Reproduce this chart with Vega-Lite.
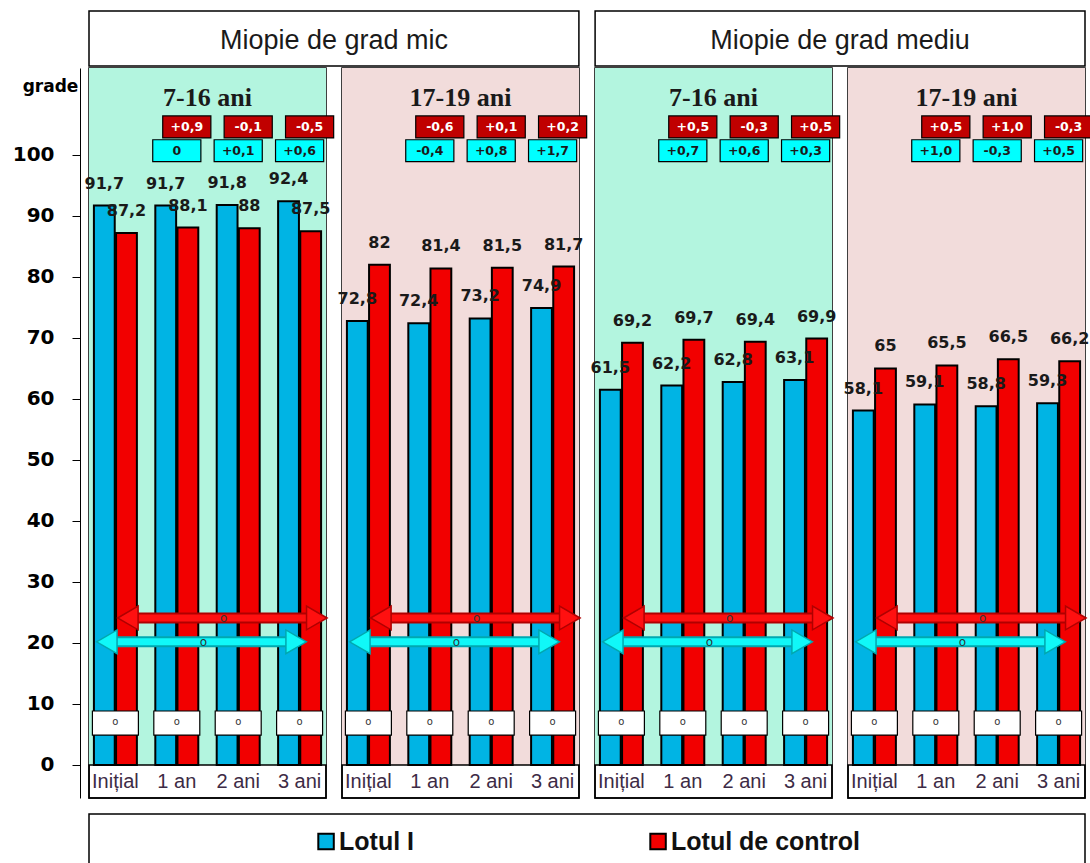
{
  "$schema": "https://vega.github.io/schema/vega-lite/v6.json",
  "padding": {"left": 11, "top": 10, "right": 4, "bottom": 0},
  "background": "white",
  "config": {
    "font": "Liberation Sans",
    "view": {"stroke": "black", "strokeWidth": 1.5}
  },
  "datasets": {
    "headers": [
      {"grade": "Miopie de grad mic"},
      {"grade": "Miopie de grad mediu"}
    ],
    "legend": [
      {"lot": "Lotul I"},
      {"lot": "Lotul de control"}
    ],
    "main": [
      {"kind": "bar", "panel": "A", "age": "7-16 ani", "time": "Inițial", "lot": "Lotul I", "value": 91.7},
      {"kind": "bar", "panel": "A", "age": "7-16 ani", "time": "Inițial", "lot": "Lotul de control", "value": 87.2},
      {"kind": "bar", "panel": "A", "age": "7-16 ani", "time": "1 an", "lot": "Lotul I", "value": 91.7},
      {"kind": "bar", "panel": "A", "age": "7-16 ani", "time": "1 an", "lot": "Lotul de control", "value": 88.1},
      {"kind": "bar", "panel": "A", "age": "7-16 ani", "time": "2 ani", "lot": "Lotul I", "value": 91.8},
      {"kind": "bar", "panel": "A", "age": "7-16 ani", "time": "2 ani", "lot": "Lotul de control", "value": 88},
      {"kind": "bar", "panel": "A", "age": "7-16 ani", "time": "3 ani", "lot": "Lotul I", "value": 92.4},
      {"kind": "bar", "panel": "A", "age": "7-16 ani", "time": "3 ani", "lot": "Lotul de control", "value": 87.5},
      {"kind": "bar", "panel": "B", "age": "17-19 ani", "time": "Inițial", "lot": "Lotul I", "value": 72.8},
      {"kind": "bar", "panel": "B", "age": "17-19 ani", "time": "Inițial", "lot": "Lotul de control", "value": 82},
      {"kind": "bar", "panel": "B", "age": "17-19 ani", "time": "1 an", "lot": "Lotul I", "value": 72.4},
      {"kind": "bar", "panel": "B", "age": "17-19 ani", "time": "1 an", "lot": "Lotul de control", "value": 81.4},
      {"kind": "bar", "panel": "B", "age": "17-19 ani", "time": "2 ani", "lot": "Lotul I", "value": 73.2},
      {"kind": "bar", "panel": "B", "age": "17-19 ani", "time": "2 ani", "lot": "Lotul de control", "value": 81.5},
      {"kind": "bar", "panel": "B", "age": "17-19 ani", "time": "3 ani", "lot": "Lotul I", "value": 74.9},
      {"kind": "bar", "panel": "B", "age": "17-19 ani", "time": "3 ani", "lot": "Lotul de control", "value": 81.7},
      {"kind": "bar", "panel": "C", "age": "7-16 ani", "time": "Inițial", "lot": "Lotul I", "value": 61.5},
      {"kind": "bar", "panel": "C", "age": "7-16 ani", "time": "Inițial", "lot": "Lotul de control", "value": 69.2},
      {"kind": "bar", "panel": "C", "age": "7-16 ani", "time": "1 an", "lot": "Lotul I", "value": 62.2},
      {"kind": "bar", "panel": "C", "age": "7-16 ani", "time": "1 an", "lot": "Lotul de control", "value": 69.7},
      {"kind": "bar", "panel": "C", "age": "7-16 ani", "time": "2 ani", "lot": "Lotul I", "value": 62.8},
      {"kind": "bar", "panel": "C", "age": "7-16 ani", "time": "2 ani", "lot": "Lotul de control", "value": 69.4},
      {"kind": "bar", "panel": "C", "age": "7-16 ani", "time": "3 ani", "lot": "Lotul I", "value": 63.1},
      {"kind": "bar", "panel": "C", "age": "7-16 ani", "time": "3 ani", "lot": "Lotul de control", "value": 69.9},
      {"kind": "bar", "panel": "D", "age": "17-19 ani", "time": "Inițial", "lot": "Lotul I", "value": 58.1},
      {"kind": "bar", "panel": "D", "age": "17-19 ani", "time": "Inițial", "lot": "Lotul de control", "value": 65},
      {"kind": "bar", "panel": "D", "age": "17-19 ani", "time": "1 an", "lot": "Lotul I", "value": 59.1},
      {"kind": "bar", "panel": "D", "age": "17-19 ani", "time": "1 an", "lot": "Lotul de control", "value": 65.5},
      {"kind": "bar", "panel": "D", "age": "17-19 ani", "time": "2 ani", "lot": "Lotul I", "value": 58.8},
      {"kind": "bar", "panel": "D", "age": "17-19 ani", "time": "2 ani", "lot": "Lotul de control", "value": 66.5},
      {"kind": "bar", "panel": "D", "age": "17-19 ani", "time": "3 ani", "lot": "Lotul I", "value": 59.3},
      {"kind": "bar", "panel": "D", "age": "17-19 ani", "time": "3 ani", "lot": "Lotul de control", "value": 66.2},
      {"kind": "delta", "panel": "A", "age": "7-16 ani", "time": "1 an", "lot": "Lotul de control", "delta": "+0,9"},
      {"kind": "delta", "panel": "A", "age": "7-16 ani", "time": "2 ani", "lot": "Lotul de control", "delta": "-0,1"},
      {"kind": "delta", "panel": "A", "age": "7-16 ani", "time": "3 ani", "lot": "Lotul de control", "delta": "-0,5"},
      {"kind": "delta", "panel": "A", "age": "7-16 ani", "time": "1 an", "lot": "Lotul I", "delta": "0"},
      {"kind": "delta", "panel": "A", "age": "7-16 ani", "time": "2 ani", "lot": "Lotul I", "delta": "+0,1"},
      {"kind": "delta", "panel": "A", "age": "7-16 ani", "time": "3 ani", "lot": "Lotul I", "delta": "+0,6"},
      {"kind": "delta", "panel": "B", "age": "17-19 ani", "time": "1 an", "lot": "Lotul de control", "delta": "-0,6"},
      {"kind": "delta", "panel": "B", "age": "17-19 ani", "time": "2 ani", "lot": "Lotul de control", "delta": "+0,1"},
      {"kind": "delta", "panel": "B", "age": "17-19 ani", "time": "3 ani", "lot": "Lotul de control", "delta": "+0,2"},
      {"kind": "delta", "panel": "B", "age": "17-19 ani", "time": "1 an", "lot": "Lotul I", "delta": "-0,4"},
      {"kind": "delta", "panel": "B", "age": "17-19 ani", "time": "2 ani", "lot": "Lotul I", "delta": "+0,8"},
      {"kind": "delta", "panel": "B", "age": "17-19 ani", "time": "3 ani", "lot": "Lotul I", "delta": "+1,7"},
      {"kind": "delta", "panel": "C", "age": "7-16 ani", "time": "1 an", "lot": "Lotul de control", "delta": "+0,5"},
      {"kind": "delta", "panel": "C", "age": "7-16 ani", "time": "2 ani", "lot": "Lotul de control", "delta": "-0,3"},
      {"kind": "delta", "panel": "C", "age": "7-16 ani", "time": "3 ani", "lot": "Lotul de control", "delta": "+0,5"},
      {"kind": "delta", "panel": "C", "age": "7-16 ani", "time": "1 an", "lot": "Lotul I", "delta": "+0,7"},
      {"kind": "delta", "panel": "C", "age": "7-16 ani", "time": "2 ani", "lot": "Lotul I", "delta": "+0,6"},
      {"kind": "delta", "panel": "C", "age": "7-16 ani", "time": "3 ani", "lot": "Lotul I", "delta": "+0,3"},
      {"kind": "delta", "panel": "D", "age": "17-19 ani", "time": "1 an", "lot": "Lotul de control", "delta": "+0,5"},
      {"kind": "delta", "panel": "D", "age": "17-19 ani", "time": "2 ani", "lot": "Lotul de control", "delta": "+1,0"},
      {"kind": "delta", "panel": "D", "age": "17-19 ani", "time": "3 ani", "lot": "Lotul de control", "delta": "-0,3"},
      {"kind": "delta", "panel": "D", "age": "17-19 ani", "time": "1 an", "lot": "Lotul I", "delta": "+1,0"},
      {"kind": "delta", "panel": "D", "age": "17-19 ani", "time": "2 ani", "lot": "Lotul I", "delta": "-0,3"},
      {"kind": "delta", "panel": "D", "age": "17-19 ani", "time": "3 ani", "lot": "Lotul I", "delta": "+0,5"}
    ]
  },
  "spacing": 13,
  "vconcat": [
    {
      "spacing": 0,
      "vconcat": [
        {
          "data": {"name": "headers"},
          "width": 996,
          "height": 55,
          "view": {"stroke": null},
          "layer": [
            {
              "mark": {"type": "rect", "fill": "white", "stroke": "black", "strokeWidth": 1.5},
              "encoding": {
                "x": {"field": "grade", "type": "nominal", "sort": null, "scale": {"paddingInner": 0.032, "paddingOuter": 0}, "axis": null}
              }
            },
            {
              "mark": {"type": "text", "fontSize": 27, "font": "Liberation Sans", "fill": "#1a1a1a", "dy": 2},
              "encoding": {
                "x": {"field": "grade", "type": "nominal", "sort": null, "axis": null},
                "text": {"field": "grade"}
              }
            },
            {
              "mark": {"type": "text", "text": ""},
              "encoding": {
                "y": {"datum": 50, "type": "quantitative", "scale": {"domain": [0, 100]},
                  "axis": {"values": [50], "labelExpr": "'100'", "title": null, "domain": false, "grid": false, "labelFont": "DejaVu Sans", "labelFontWeight": "bold", "labelFontSize": 20, "labelColor": "white", "labelPadding": 18, "tickSize": 8, "tickColor": "white", "offset": 9}}
              }
            }
          ]
        },
        {
          "data": {"name": "main"},
          "facet": {
            "column": {"field": "panel", "type": "nominal", "title": null, "header": {"labels": false, "title": null}}
          },
          "spacing": 16,
          "bounds": "flush",
          "spec": {
            "width": 237,
            "height": 730,
            "layer": [
              {
                "transform": [{"filter": "datum.kind==='bar' && datum.lot==='Lotul I' && datum.time==='Inițial'"}],
                "mark": {"type": "rect"},
                "encoding": {
                  "y": {"datum": 0},
                  "y2": {"datum": 114.26},
                  "fill": {"condition": {"test": "datum.age==='7-16 ani'", "value": "#b3f5df"}, "value": "#f2dcdb"}
                }
              },
              {
                "transform": [{"filter": "datum.kind==='bar' && datum.lot==='Lotul I' && datum.time==='Inițial'"}],
                "mark": {"type": "rect", "fill": "white", "fillOpacity": 0, "stroke": "black", "strokeWidth": 1.5},
                "encoding": {
                  "y": {"datum": -5.41},
                  "y2": {"datum": 0}
                }
              },
              {
                "transform": [{"filter": "datum.kind==='bar'"}],
                "mark": {"type": "bar", "stroke": "black", "strokeWidth": 2},
                "encoding": {
                  "x": {
                    "field": "time", "type": "nominal",
                    "scale": {"domain": ["Inițial", "1 an", "2 ani", "3 ani"], "paddingInner": 0.3, "paddingOuter": 0.08},
                    "axis": {"title": null, "domain": false, "ticks": false, "tickSize": 0, "labelPadding": -17, "labelBaseline": "middle", "labelAngle": 0, "labelFont": "Liberation Sans", "labelFontSize": 20, "labelColor": "#3d2b45", "zindex": 2}
                  },
                  "xOffset": {"field": "lot", "type": "nominal", "scale": {"domain": ["Lotul I", "Lotul de control"], "paddingInner": 0.06}},
                  "y": {
                    "field": "value", "type": "quantitative",
                    "scale": {"domain": [-5.41, 114.26], "nice": false},
                    "axis": {"values": [0, 10, 20, 30, 40, 50, 60, 70, 80, 90, 100], "title": "grade", "titleAngle": 0, "titleX": -30, "titleY": 18, "titleAlign": "center", "titleBaseline": "middle", "titleFont": "DejaVu Sans", "titleFontWeight": "bold", "titleFontSize": 17, "titleColor": "black", "labelFont": "DejaVu Sans", "labelFontWeight": "bold", "labelFontSize": 20, "labelColor": "black", "labelPadding": 18, "tickSize": 8, "tickColor": "black", "domainColor": "black", "offset": 9, "grid": false}
                  },
                  "y2": {"datum": 0},
                  "color": {"field": "lot", "type": "nominal", "scale": {"domain": ["Lotul I", "Lotul de control"], "range": ["#00b4e4", "#f20000"]}, "legend": null}
                }
              },
              {
                "transform": [{"filter": "datum.kind==='bar' && datum.lot==='Lotul I'"}],
                "mark": {"type": "bar", "fill": "white", "stroke": "black", "strokeWidth": 1.2, "width": {"band": 1.07}},
                "encoding": {
                  "x": {"field": "time", "type": "nominal"},
                  "y": {"datum": 4.9},
                  "y2": {"datum": 8.85}
                }
              },
              {
                "transform": [{"filter": "datum.kind==='bar' && datum.lot==='Lotul I'"}],
                "mark": {"type": "text", "fontSize": 10, "fill": "#333", "font": "DejaVu Sans"},
                "encoding": {
                  "x": {"field": "time", "type": "nominal"},
                  "y": {"datum": 7.0},
                  "text": {"value": "o"}
                }
              },
              {
                "transform": [{"filter": "datum.kind==='bar' && datum.lot==='Lotul I' && datum.time==='Inițial'"}],
                "mark": {"type": "rule", "stroke": "#b00000", "strokeWidth": 11},
                "encoding": {
                  "x": {"datum": "Inițial", "bandPosition": 0.79},
                  "x2": {"datum": "3 ani", "bandPosition": 0.9},
                  "y": {"datum": 24.1}
                }
              },
              {
                "transform": [{"filter": "datum.kind==='bar' && datum.lot==='Lotul I' && datum.time==='Inițial'"}],
                "mark": {"type": "rule", "stroke": "#ff1010", "strokeWidth": 7},
                "encoding": {
                  "x": {"datum": "Inițial", "bandPosition": 0.79},
                  "x2": {"datum": "3 ani", "bandPosition": 0.9},
                  "y": {"datum": 24.1}
                }
              },
              {
                "transform": [{"filter": "datum.kind==='bar' && datum.lot==='Lotul I' && datum.time==='Inițial'"}],
                "mark": {"type": "point", "shape": "triangle-left", "size": 560, "filled": true, "fill": "#ff1010", "stroke": "#b00000", "strokeWidth": 1.5, "opacity": 1},
                "encoding": {
                  "x": {"datum": "Inițial", "bandPosition": 0.79},
                  "y": {"datum": 24.1}
                }
              },
              {
                "transform": [{"filter": "datum.kind==='bar' && datum.lot==='Lotul I' && datum.time==='Inițial'"}],
                "mark": {"type": "point", "shape": "triangle-right", "size": 560, "filled": true, "fill": "#ff1010", "stroke": "#b00000", "strokeWidth": 1.5, "opacity": 1},
                "encoding": {
                  "x": {"datum": "3 ani", "bandPosition": 0.9},
                  "y": {"datum": 24.1}
                }
              },
              {
                "transform": [{"filter": "datum.kind==='bar' && datum.lot==='Lotul I' && datum.time==='Inițial'"}],
                "mark": {"type": "rule", "stroke": "#00a8b0", "strokeWidth": 11},
                "encoding": {
                  "x": {"datum": "Inițial", "bandPosition": 0.3},
                  "x2": {"datum": "3 ani", "bandPosition": 0.42},
                  "y": {"datum": 20.2}
                }
              },
              {
                "transform": [{"filter": "datum.kind==='bar' && datum.lot==='Lotul I' && datum.time==='Inițial'"}],
                "mark": {"type": "rule", "stroke": "#10f8f8", "strokeWidth": 7},
                "encoding": {
                  "x": {"datum": "Inițial", "bandPosition": 0.3},
                  "x2": {"datum": "3 ani", "bandPosition": 0.42},
                  "y": {"datum": 20.2}
                }
              },
              {
                "transform": [{"filter": "datum.kind==='bar' && datum.lot==='Lotul I' && datum.time==='Inițial'"}],
                "mark": {"type": "point", "shape": "triangle-left", "size": 560, "filled": true, "fill": "#10f8f8", "stroke": "#00a8b0", "strokeWidth": 1.5, "opacity": 1},
                "encoding": {
                  "x": {"datum": "Inițial", "bandPosition": 0.3},
                  "y": {"datum": 20.2}
                }
              },
              {
                "transform": [{"filter": "datum.kind==='bar' && datum.lot==='Lotul I' && datum.time==='Inițial'"}],
                "mark": {"type": "point", "shape": "triangle-right", "size": 560, "filled": true, "fill": "#10f8f8", "stroke": "#00a8b0", "strokeWidth": 1.5, "opacity": 1},
                "encoding": {
                  "x": {"datum": "3 ani", "bandPosition": 0.42},
                  "y": {"datum": 20.2}
                }
              },
              {
                "transform": [{"filter": "datum.kind==='bar' && datum.lot==='Lotul I' && datum.time==='Inițial'"}],
                "mark": {"type": "text", "fontSize": 12, "fill": "#333", "font": "DejaVu Sans"},
                "encoding": {
                  "x": {"datum": "2 ani", "bandPosition": 0.16},
                  "y": {"datum": 24.1},
                  "text": {"value": "o"}
                }
              },
              {
                "transform": [{"filter": "datum.kind==='bar' && datum.lot==='Lotul I' && datum.time==='Inițial'"}],
                "mark": {"type": "text", "fontSize": 12, "fill": "#333", "font": "DejaVu Sans"},
                "encoding": {
                  "x": {"datum": "1 an", "bandPosition": 1.12},
                  "y": {"datum": 20.2},
                  "text": {"value": "o"}
                }
              },
              {
                "transform": [
                  {"filter": "datum.kind==='bar'"},
                  {"calculate": "replace(toString(datum.value), '.', ',')", "as": "label"}
                ],
                "mark": {"type": "text", "font": "DejaVu Sans", "fontWeight": "bold", "fontSize": 16, "dy": -22, "fill": "#1a1a1a"},
                "encoding": {
                  "x": {"field": "time", "type": "nominal"},
                  "xOffset": {"field": "lot", "type": "nominal"},
                  "y": {"field": "value", "type": "quantitative"},
                  "text": {"field": "label"}
                }
              },
              {
                "transform": [{"filter": "datum.kind==='delta' && datum.lot==='Lotul de control'"}],
                "mark": {"type": "bar", "fill": "#c00000", "stroke": "black", "strokeWidth": 1.2, "width": {"band": 1.12}, "xOffset": 10},
                "encoding": {
                  "x": {"field": "time", "type": "nominal"},
                  "y": {"datum": 102.8},
                  "y2": {"datum": 106.4}
                }
              },
              {
                "transform": [{"filter": "datum.kind==='delta' && datum.lot==='Lotul I'"}],
                "mark": {"type": "bar", "fill": "#00ffff", "stroke": "black", "strokeWidth": 1.2, "width": {"band": 1.12}},
                "encoding": {
                  "x": {"field": "time", "type": "nominal"},
                  "y": {"datum": 98.9},
                  "y2": {"datum": 102.5}
                }
              },
              {
                "transform": [{"filter": "datum.kind==='delta' && datum.lot==='Lotul de control'"}],
                "mark": {"type": "text", "font": "DejaVu Sans", "fontWeight": "bold", "fontSize": 12.5, "fill": "white", "xOffset": 10},
                "encoding": {
                  "x": {"field": "time", "type": "nominal"},
                  "y": {"datum": 104.6},
                  "text": {"field": "delta"}
                }
              },
              {
                "transform": [{"filter": "datum.kind==='delta' && datum.lot==='Lotul I'"}],
                "mark": {"type": "text", "font": "DejaVu Sans", "fontWeight": "bold", "fontSize": 12.5, "fill": "#1a1a1a"},
                "encoding": {
                  "x": {"field": "time", "type": "nominal"},
                  "y": {"datum": 100.7},
                  "text": {"field": "delta"}
                }
              },
              {
                "transform": [{"filter": "datum.kind==='bar' && datum.lot==='Lotul I' && datum.time==='Inițial'"}],
                "mark": {"type": "text", "font": "Liberation Serif", "fontWeight": "bold", "fontSize": 26, "fill": "#1a1a1a"},
                "encoding": {
                  "y": {"datum": 109.3},
                  "text": {"field": "age"}
                }
              }
            ]
          }
        }
      ]
    },
    {
      "data": {"name": "legend"},
      "width": 996,
      "height": 55,
      "layer": [
        {
          "mark": {"type": "point", "shape": "square", "filled": true, "size": 240, "stroke": "black", "strokeWidth": 2, "opacity": 1},
          "encoding": {
            "x": {"field": "lot", "type": "nominal", "sort": null, "scale": {"type": "point", "padding": 1, "align": 0.357}, "axis": null},
            "fill": {"field": "lot", "type": "nominal", "scale": {"domain": ["Lotul I", "Lotul de control"], "range": ["#00b4e4", "#f20000"]}, "legend": null}
          }
        },
        {
          "mark": {"type": "text", "align": "left", "dx": 13, "fontSize": 25, "fontWeight": "bold", "font": "Liberation Sans", "fill": "#111"},
          "encoding": {
            "x": {"field": "lot", "type": "nominal", "sort": null, "axis": null},
            "text": {"field": "lot"}
          }
        },
        {
          "mark": {"type": "text", "text": ""},
          "encoding": {
            "y": {"datum": 50, "type": "quantitative", "scale": {"domain": [0, 100]},
              "axis": {"values": [50], "labelExpr": "'100'", "title": null, "domain": false, "grid": false, "labelFont": "DejaVu Sans", "labelFontWeight": "bold", "labelFontSize": 20, "labelColor": "white", "labelPadding": 18, "tickSize": 8, "tickColor": "white", "offset": 9}}
          }
        }
      ]
    }
  ]
}
